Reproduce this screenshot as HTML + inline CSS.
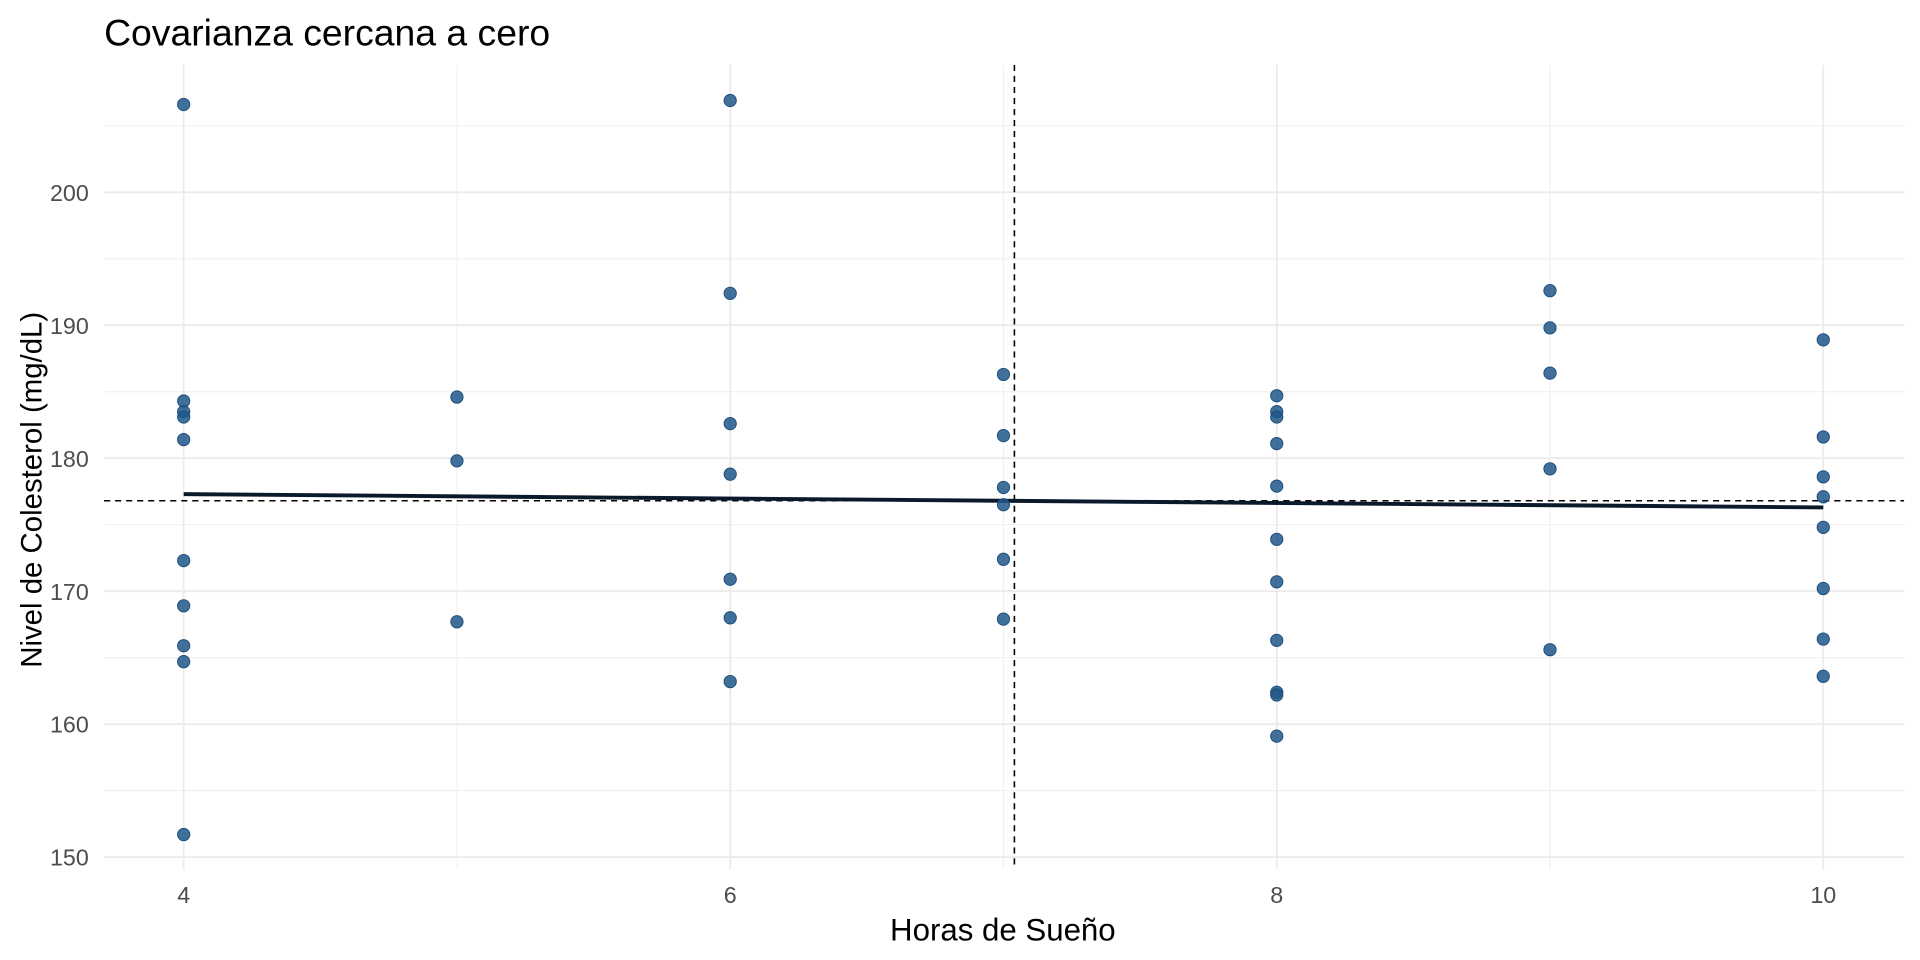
<!DOCTYPE html>
<html><head><meta charset="utf-8">
<style>html,body{margin:0;padding:0;background:#fff}svg{display:block}text{font-family:"Liberation Sans",sans-serif}</style>
</head><body>
<svg id="chart" width="1920" height="960" viewBox="0 0 1568 784" xmlns="http://www.w3.org/2000/svg">
<rect width="1568" height="784" fill="#fff"/>
<text x="85" y="37" font-size="30.5" fill="#000">Covarianza cercana a cero</text>
<g id="grid"></g>
<g id="lines"></g>
<g id="pts"></g>
<g id="axes"></g>
<text x="819" y="768" font-size="25.5" text-anchor="middle" fill="#000">Horas de Sueño</text>
<text transform="translate(34,400) rotate(-90)" font-size="24" text-anchor="middle" fill="#000">Nivel de Colesterol (mg/dL)</text>
</svg>
<script>
const xs = [4,4,4,4,4,4,4,4,4,4, 5,5,5, 6,6,6,6,6,6,6, 7,7,7,7,7,7, 8,8,8,8,8,8,8,8,8,8,8, 9,9,9,9,9, 10,10,10,10,10,10,10,10];
const ys = [206.6,184.3,183.5,183.1,181.4,172.3,168.9,165.9,164.7,151.7,
 184.6,179.8,167.7,
 206.9,192.4,182.6,178.8,170.9,168.0,163.2,
 186.3,181.7,177.8,176.5,172.4,167.9,
 184.7,183.5,183.1,181.1,177.9,173.9,170.7,166.3,162.4,162.2,159.1,
 192.6,189.8,186.4,179.2,165.6,
 188.9,181.6,178.6,177.1,174.8,170.2,166.4,163.6];
const xTicks = [4,6,8,10];
const xMinor = [5,7,9];
const yTicks = [150,160,170,180,190,200];
const yMinor = [155,165,175,185,195,205];
const meanX = 7.04, meanY = 176.8;
const regStart = [4,177.3], regEnd = [10,176.3];

const L=85,R=1555,T=53,B=710;
const X = v => 150 + (v-4)*(1489-150)/6;
const Y = v => 157 + (200-v)*(700-157)/50;
const NS='http://www.w3.org/2000/svg';
function mk(tag, parent, attrs){const e=document.createElementNS(NS,tag);for(const k in attrs)e.setAttribute(k,attrs[k]);document.getElementById(parent).appendChild(e);return e;}

yMinor.forEach(v=>{const e=mk('line','grid',{x1:L,x2:R,y1:Y(v),y2:Y(v),stroke:'#f1f1f1','stroke-width':1});

});
xMinor.forEach(v=>{const e=mk('line','grid',{x1:X(v),x2:X(v),y1:T,y2:B,stroke:'#f1f1f1','stroke-width':1});

});
yTicks.forEach(v=>{const e=mk('line','grid',{x1:L,x2:R,y1:Y(v),y2:Y(v),stroke:'#ebebeb','stroke-width':1.5});


const t=mk('text','axes',{x:72.5,y:Y(v)+7,'font-size':19,'text-anchor':'end',fill:'#4d4d4d'});t.textContent=v;

});
xTicks.forEach(v=>{const e=mk('line','grid',{x1:X(v),x2:X(v),y1:T,y2:B,stroke:'#ebebeb','stroke-width':1.5});


const t=mk('text','axes',{x:X(v),y:737.5,'font-size':19,'text-anchor':'middle',fill:'#4d4d4d'});t.textContent=v;

});

let e=mk('line','lines',{x1:L,x2:R,y1:Y(meanY),y2:Y(meanY),stroke:'#000','stroke-width':1.3,'stroke-dasharray':'5,4'});


e=mk('line','lines',{x1:X(meanX),x2:X(meanX),y1:T,y2:B,stroke:'#000','stroke-width':1.3,'stroke-dasharray':'5,4'});


e=mk('line','lines',{x1:X(regStart[0]),x2:X(regEnd[0]),y1:Y(regStart[1]),y2:Y(regEnd[1]),stroke:'#0b1a2b','stroke-width':3.2});



xs.forEach((x,i)=>{const c=mk('circle','pts',{cx:X(x),cy:Y(ys[i]),r:5,fill:'#20578a','fill-opacity':0.85,stroke:'#1d4f7d','stroke-width':0.8});

});
</script>
</body></html>
